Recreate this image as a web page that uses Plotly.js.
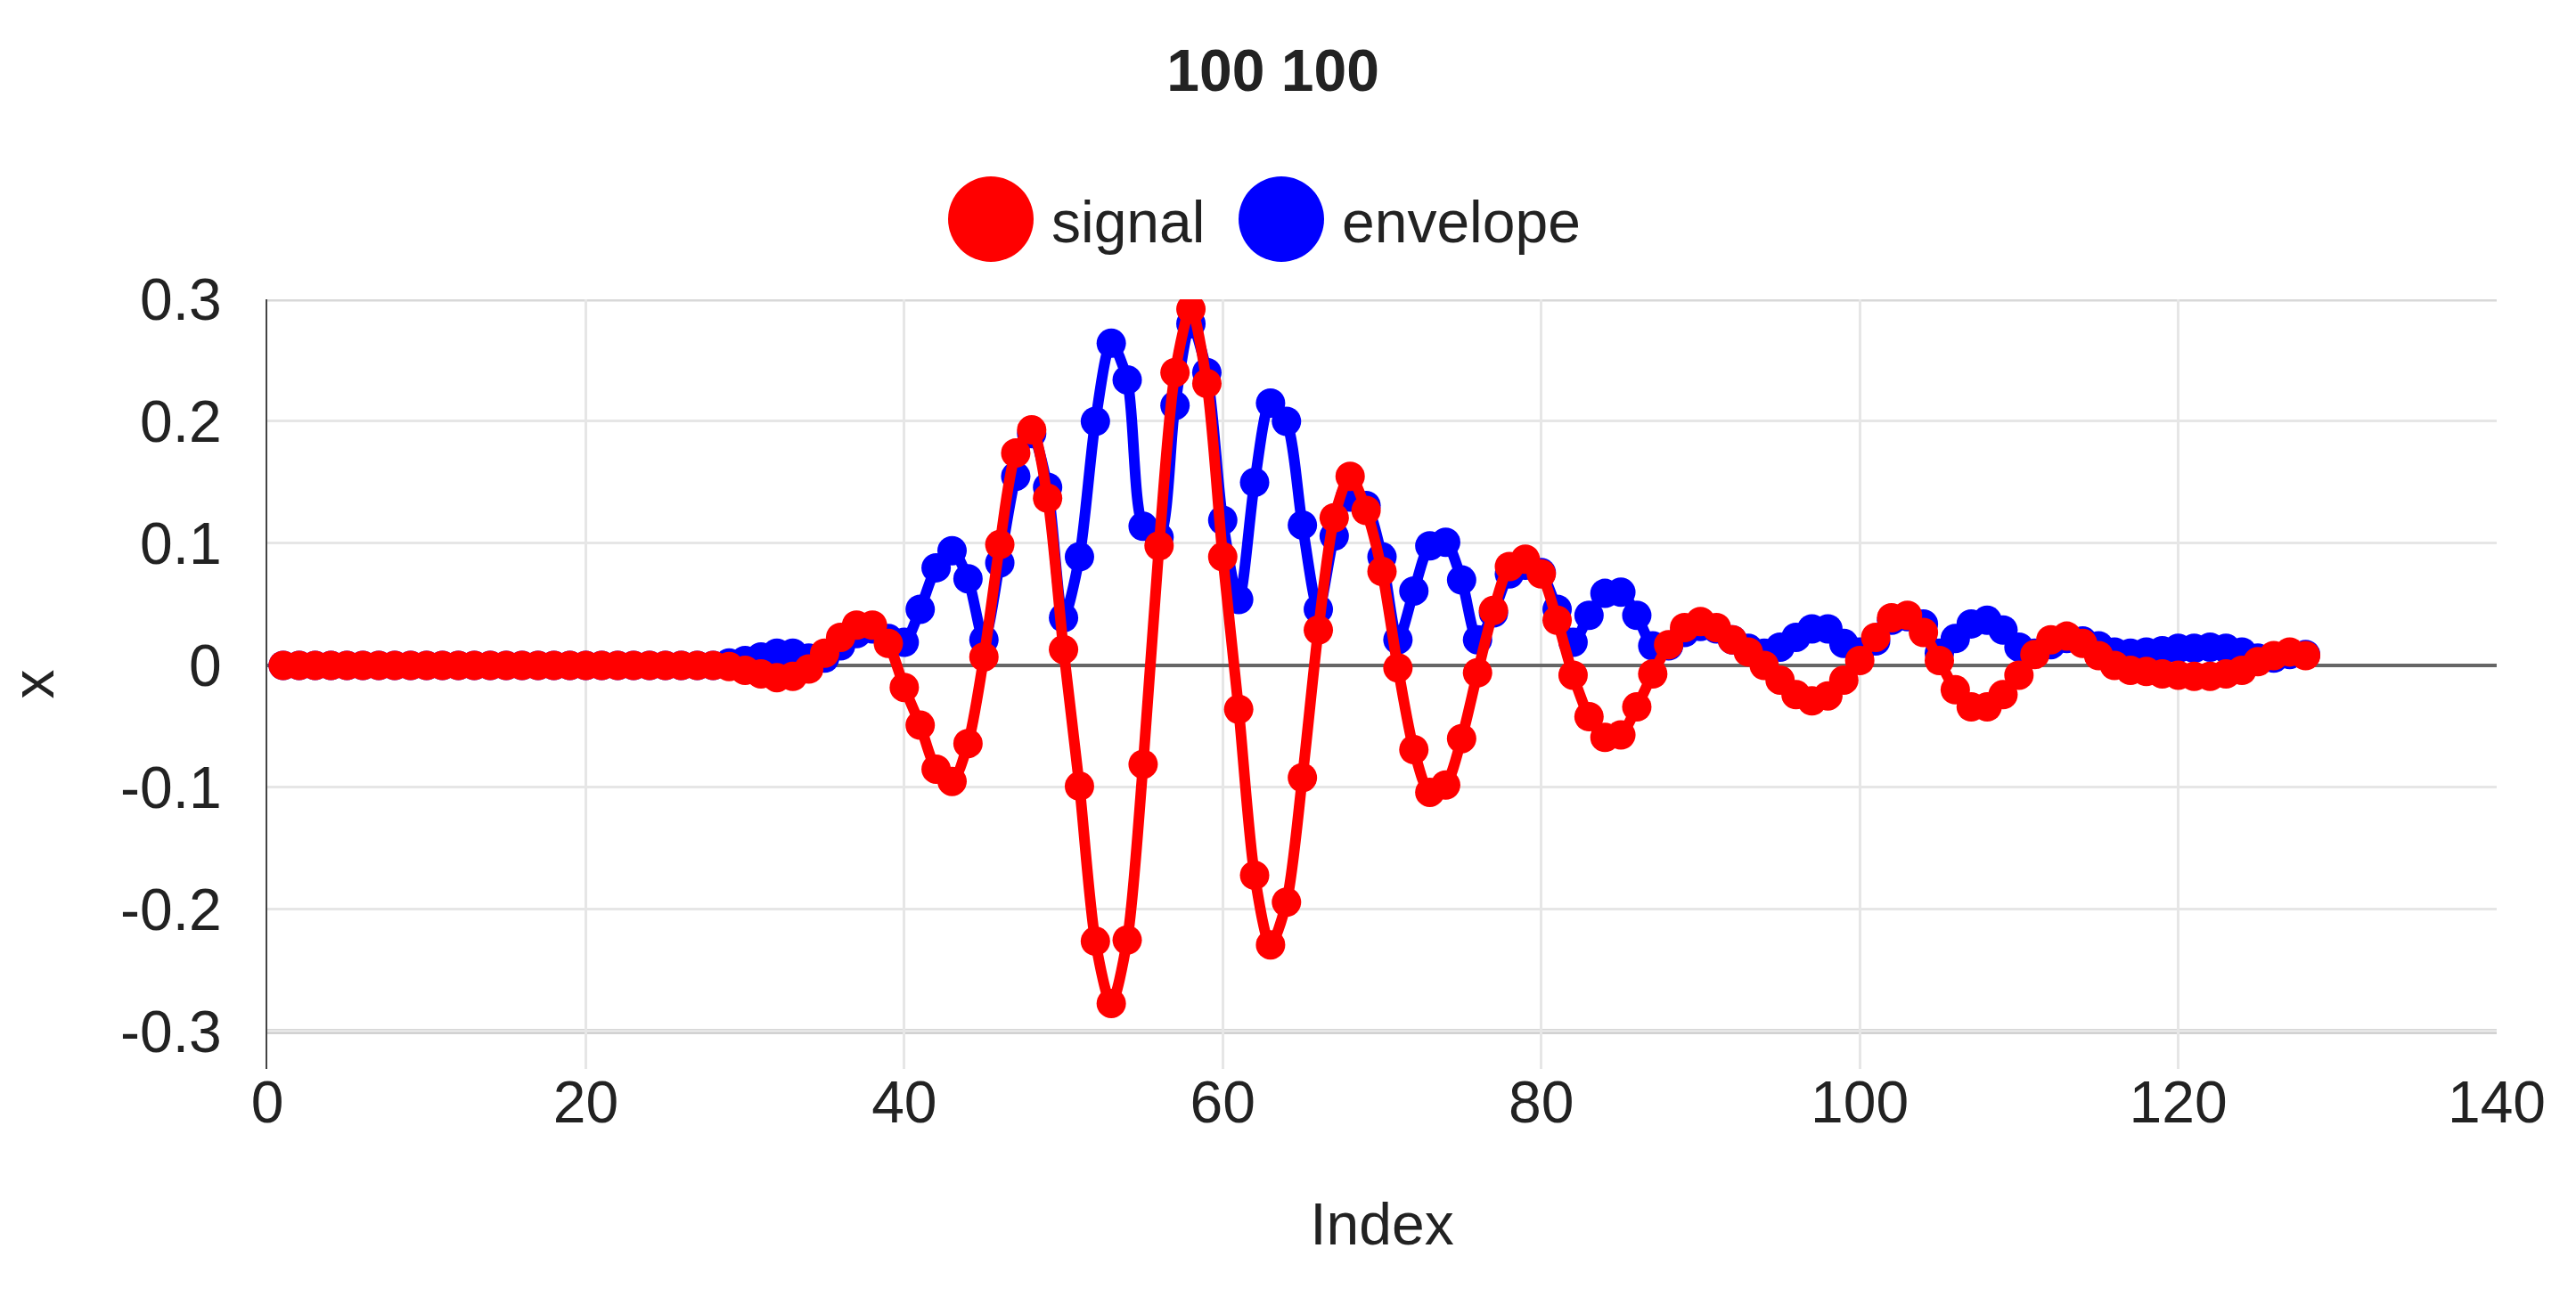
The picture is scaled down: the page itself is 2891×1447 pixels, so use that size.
<!DOCTYPE html>
<html>
<head>
<meta charset="utf-8">
<script src="https://cdn.plot.ly/plotly-3.0.1.min.js"></script>
<style>
  html { overflow: hidden; }
  html, body { margin: 0; padding: 0; background: #fff; width: 2891px; height: 1447px; }
  #chart { transform-origin: 0 0; position: absolute; left: 0; top: 0; }
</style>
</head>
<body>
<div id="chart"></div>
<script>
var index = [1, 2, 3, 4, 5, 6, 7, 8, 9, 10, 11, 12, 13, 14, 15, 16, 17, 18, 19, 20,
  21, 22, 23, 24, 25, 26, 27, 28, 29, 30, 31, 32, 33, 34, 35, 36, 37, 38, 39, 40,
  41, 42, 43, 44, 45, 46, 47, 48, 49, 50, 51, 52, 53, 54, 55, 56, 57, 58, 59, 60,
  61, 62, 63, 64, 65, 66, 67, 68, 69, 70, 71, 72, 73, 74, 75, 76, 77, 78, 79, 80,
  81, 82, 83, 84, 85, 86, 87, 88, 89, 90, 91, 92, 93, 94, 95, 96, 97, 98, 99, 100,
  101, 102, 103, 104, 105, 106, 107, 108, 109, 110, 111, 112, 113, 114, 115, 116, 117, 118, 119, 120,
  121, 122, 123, 124, 125, 126, 127, 128];

var signal = [0, 0, 0, 0, 0, 0, 0, 0, 0, 0, 0, 0, 0, 0, 0, 0, 0, 0, 0, 0,
  0, 0, 0, 0, 0, 0, 0, 0, -0.001, -0.004, -0.007, -0.01, -0.009, -0.003, 0.01, 0.023, 0.033, 0.033, 0.018, -0.018,
  -0.049, -0.085, -0.095, -0.064, 0.007, 0.099, 0.174, 0.193, 0.137, 0.013, -0.099, -0.226, -0.277, -0.225, -0.081, 0.098, 0.24, 0.292, 0.231, 0.089,
  -0.036, -0.172, -0.229, -0.194, -0.092, 0.029, 0.121, 0.155, 0.127, 0.077, -0.002, -0.069, -0.104, -0.098, -0.06, -0.006, 0.045, 0.081, 0.087, 0.075,
  0.037, -0.008, -0.042, -0.059, -0.057, -0.034, -0.007, 0.017, 0.031, 0.036, 0.031, 0.021, 0.011, 0.0, -0.012, -0.024, -0.029, -0.025, -0.012, 0.004,
  0.023, 0.039, 0.041, 0.027, 0.004, -0.02, -0.034, -0.034, -0.024, -0.008, 0.009, 0.021, 0.024, 0.018, 0.008, 0.0, -0.004, -0.005, -0.007, -0.008,
  -0.009, -0.009, -0.007, -0.004, 0.003, 0.008, 0.011, 0.008];

var envelope = [0, 0, 0, 0, 0, 0, 0, 0, 0, 0, 0, 0, 0, 0, 0, 0, 0, 0, 0, 0,
  0, 0, 0, 0, 0, 0, 0, 0, 0.002, 0.004, 0.007, 0.01, 0.01, 0.006, 0.006, 0.016, 0.026, 0.03, 0.022, 0.019,
  0.046, 0.08, 0.094, 0.071, 0.021, 0.084, 0.155, 0.19, 0.146, 0.039, 0.089, 0.2, 0.264, 0.234, 0.114, 0.105, 0.213, 0.28, 0.24, 0.119,
  0.054, 0.15, 0.215, 0.2, 0.115, 0.046, 0.106, 0.138, 0.131, 0.089, 0.021, 0.061, 0.098, 0.101, 0.07, 0.021, 0.043, 0.075, 0.082, 0.076,
  0.046, 0.019, 0.041, 0.059, 0.06, 0.041, 0.016, 0.016, 0.027, 0.032, 0.03, 0.021, 0.014, 0.01, 0.015, 0.023, 0.03, 0.03, 0.018, 0.011,
  0.02, 0.037, 0.04, 0.034, 0.01, 0.022, 0.034, 0.037, 0.029, 0.015, 0.01, 0.017, 0.022, 0.02, 0.016, 0.011, 0.01, 0.011, 0.012, 0.014,
  0.014, 0.015, 0.014, 0.011, 0.006, 0.006, 0.009, 0.009];

var yTicks = [-0.3, -0.2, -0.1, 0, 0.1, 0.2, 0.3];
var yTickText = ['-0.3', '-0.2', '-0.1', '0', '0.1', '0.2', '0.3'];

// the page is drawn small and scaled up, so every size below is in small units
var S = 6;
var W = 482, H = 241;
var el = document.getElementById('chart');
el.style.transform = 'scale(' + S + ')';

var font = {family: '"Liberation Sans", Arial, sans-serif', size: 11, color: '#222'};

var traceEnv = {
    x: index, y: envelope, name: 'envelope',
    type: 'scatter', mode: 'lines+markers',
    line: {color: '#0000ff', width: 2, shape: 'spline', smoothing: 0.8},
    marker: {color: '#0000ff', size: 5.5},
    showlegend: false
};
var traceSig = {
    x: index, y: signal, name: 'signal',
    type: 'scatter', mode: 'lines+markers',
    line: {color: '#ff0000', width: 2, shape: 'spline', smoothing: 0.8},
    marker: {color: '#ff0000', size: 5.5},
    showlegend: false
};
// legend entries with big round symbols
var legSig = {x: [null], y: [null], name: 'signal', type: 'scatter', mode: 'markers',
    marker: {color: '#ff0000', size: 16}};
var legEnv = {x: [null], y: [null], name: 'envelope', type: 'scatter', mode: 'markers',
    marker: {color: '#0000ff', size: 16}};

var layout = {
    width: W, height: H,
    font: font,
    paper_bgcolor: '#fff', plot_bgcolor: '#fff',
    margin: {l: 50, r: 15, t: 56, b: 41, pad: 0},
    title: {text: '100 100', font: {family: font.family, size: 11, color: '#222', weight: 'bold'},
        x: 0.494, xref: 'container', y: 1 - 13.2 / H, yref: 'container', yanchor: 'middle'},
    legend: {orientation: 'h', x: 0.49, xanchor: 'center', y: 1 - 41 / H, yref: 'container',
        yanchor: 'middle', font: font, itemwidth: 30},
    xaxis: {
        range: [0, 140], dtick: 20, tick0: 0,
        showgrid: true, gridcolor: '#e6e6e6', gridwidth: 0.5,
        zeroline: false, showline: false, ticks: '',
        tickfont: font, ticklabelstandoff: -2,
        title: {text: 'Index', font: font, standoff: 13.6}
    },
    yaxis: {
        range: [-0.3307, 0.3],
        tickvals: yTicks, ticktext: yTickText,
        showgrid: true, gridcolor: '#e6e6e6', gridwidth: 0.5,
        zeroline: true, zerolinecolor: '#666', zerolinewidth: 0.7,
        showline: true, linecolor: '#444', linewidth: 0.35, ticks: '',
        tickfont: font, ticklabelstandoff: 6,
        title: {text: 'x', font: font, standoff: 9}
    },
    shapes: [
        {type: 'line', xref: 'paper', x0: 0, x1: 1, yref: 'y', y0: 0.3, y1: 0.3, layer: 'below',
            line: {color: '#d8d8d8', width: 0.8}},
        {type: 'line', xref: 'paper', x0: 0, x1: 1, yref: 'y', y0: -0.3, y1: -0.3, layer: 'below',
            line: {color: '#c8c8c8', width: 0.9}}
    ]
};

// legend symbol centres and text gap, in page pixels
var legendSymbolX = [1112, 1438];
var legendTextGap = 68;

Plotly.newPlot('chart', [traceEnv, traceSig, legSig, legEnv], layout, {staticPlot: true, displayModeBar: false})
.then(function() {
    var items = document.querySelectorAll('#chart g.legend g.traces');
    items.forEach(function(item, i) {
        var sym = item.querySelector('path.scatterpts');
        var txt = item.querySelector('text.legendtext');
        if(!sym || !txt) return;
        var r = sym.getBoundingClientRect();
        var dx = (legendSymbolX[i] - (r.left + r.width / 2)) / S;
        var m = /translate\(\s*([-\d.e]+)[ ,]+([-\d.e]+)\s*\)/.exec(item.getAttribute('transform') || '');
        var tx = m ? +m[1] : 0, ty = m ? +m[2] : 0;
        var tl = txt.getBoundingClientRect().left;
        var dt = (legendSymbolX[i] + legendTextGap - tl) / S - dx;
        item.setAttribute('transform', 'translate(' + (tx + dx) + ',' + ty + ')');
        txt.setAttribute('x', (+txt.getAttribute('x') || 0) + dt);
    });
});
</script>
</body>
</html>
